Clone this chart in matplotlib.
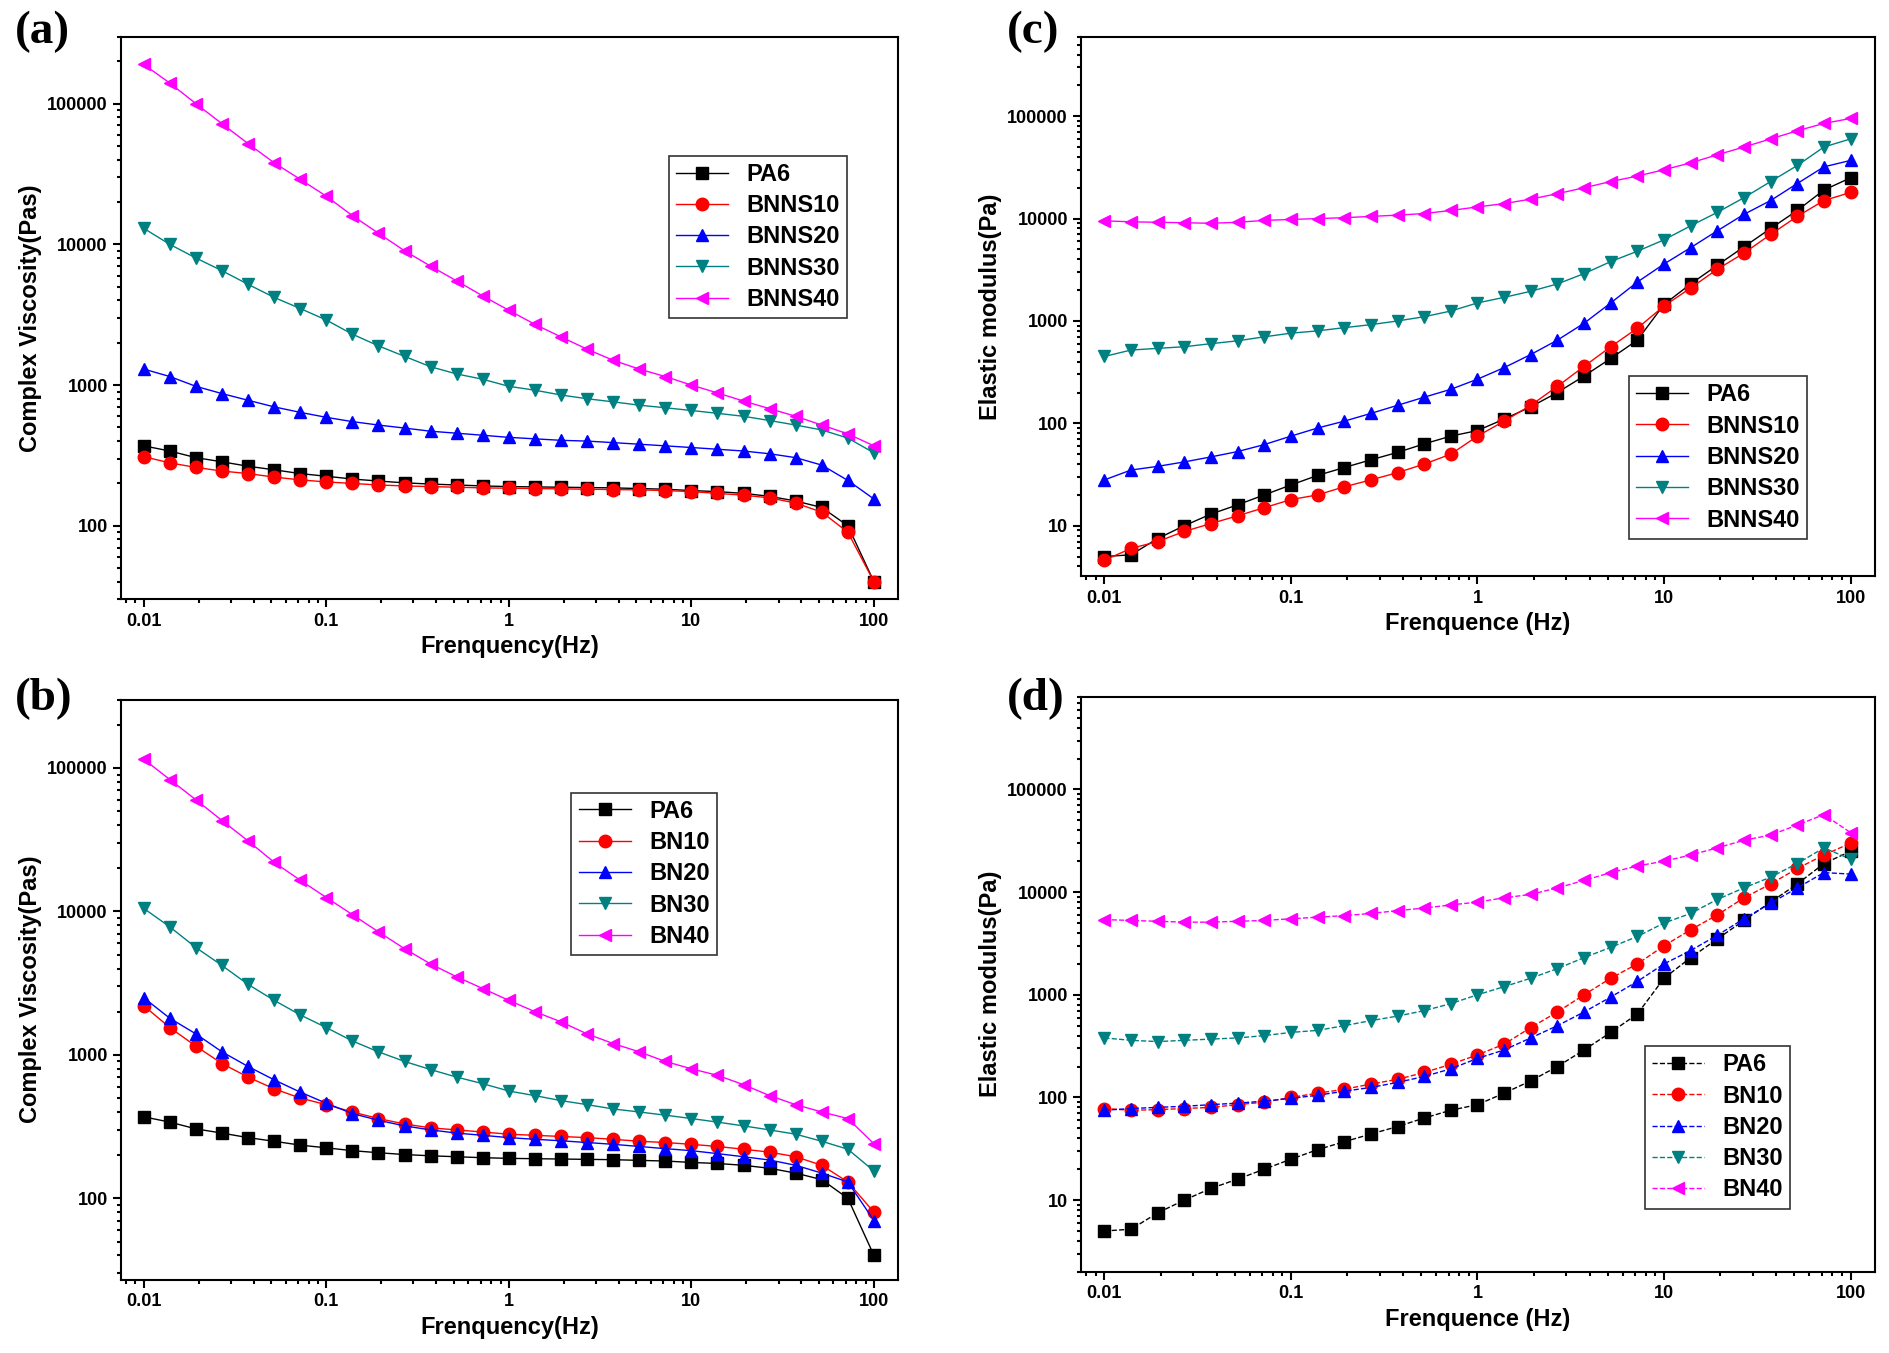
import numpy as np
import matplotlib.pyplot as plt

plt.rcParams['font.family'] = 'Liberation Sans'
plt.rcParams['font.weight'] = 'bold'

freq = np.logspace(-2, 2, 29)

# Datos
visc_bnns = {
    'PA6': [370, 340, 305, 285, 265, 250, 235, 225, 215, 208, 202, 198, 195, 192, 190,
            189, 188, 187, 186, 184, 182, 178, 175, 170, 162, 150, 135, 100, 40],
    'BNNS10': [310, 280, 260, 245, 235, 222, 212, 205, 200, 195, 192, 190, 188, 186, 185,
               184, 183, 182, 181, 180, 178, 175, 170, 165, 158, 145, 125, 90, 40],
    'BNNS20': [1300, 1150, 980, 870, 780, 700, 640, 590, 550, 520, 495, 470, 455, 440, 425,
               415, 405, 400, 390, 380, 370, 360, 350, 340, 325, 305, 270, 210, 155],
    'BNNS30': [13000, 10000, 8000, 6500, 5200, 4200, 3500, 2900, 2300, 1900, 1600, 1350, 1200,
               1100, 980, 920, 850, 800, 760, 720, 690, 660, 630, 600, 560, 520, 480, 420, 330],
    'BNNS40': [190000, 140000, 100000, 72000, 52000, 38000, 29000, 22000, 16000, 12000, 9000,
               7000, 5500, 4300, 3400, 2700, 2200, 1800, 1500, 1300, 1150, 1000, 880, 770, 680,
               600, 520, 450, 370],
}
visc_bn = {
    'PA6': visc_bnns['PA6'],
    'BN10': [2200, 1550, 1150, 870, 700, 580, 500, 450, 400, 360, 330, 310, 300, 290, 280,
             275, 270, 265, 258, 250, 245, 238, 230, 220, 210, 195, 170, 130, 80],
    'BN20': [2500, 1800, 1400, 1050, 830, 670, 550, 460, 390, 350, 320, 300, 285, 275, 265,
             258, 252, 245, 238, 230, 222, 215, 205, 195, 185, 170, 150, 130, 70],
    'BN30': [10500, 7800, 5600, 4200, 3100, 2400, 1900, 1550, 1250, 1050, 900, 790, 700, 630,
             560, 520, 480, 450, 420, 400, 380, 360, 340, 320, 300, 280, 250, 220, 155],
    'BN40': [115000, 83000, 60000, 43000, 31000, 22000, 16500, 12500, 9500, 7200, 5500, 4300,
             3500, 2900, 2400, 2000, 1700, 1400, 1200, 1050, 900, 800, 720, 620, 520, 450, 400,
             360, 240],
}
mod_pa6 = [5, 5.2, 7.5, 10, 13, 16, 20, 25, 31, 37, 44, 52, 63, 75, 85, 110, 145, 200, 290,
           430, 650, 1450, 2300, 3500, 5300, 8000, 12000, 19000, 25000]
mod_bnns = {
    'PA6': mod_pa6,
    'BNNS10': [4.6, 6, 7, 8.8, 10.5, 12.5, 15, 18, 20, 24, 28, 33, 40, 50, 75, 105, 150, 230,
               360, 560, 850, 1400, 2100, 3200, 4600, 7000, 10500, 15000, 18000],
    'BNNS20': [28, 35, 38, 42, 47, 53, 62, 75, 90, 105, 125, 150, 180, 215, 270, 350, 470, 650,
               950, 1500, 2400, 3600, 5200, 7600, 11000, 15000, 22000, 32000, 37000],
    'BNNS30': [450, 520, 540, 560, 600, 640, 700, 760, 800, 860, 920, 1000, 1100, 1250, 1500,
               1700, 1950, 2300, 2900, 3800, 4800, 6200, 8500, 11500, 16000, 23000, 33000,
               50000, 60000],
    'BNNS40': [9500, 9300, 9200, 9100, 9000, 9200, 9600, 9800, 10000, 10200, 10500, 10800,
               11200, 12000, 13000, 14000, 15500, 17500, 20000, 23000, 26000, 30000, 35000,
               42000, 50000, 60000, 72000, 85000, 95000],
}
mod_bn = {
    'PA6': mod_pa6,
    'BN10': [78, 75, 76, 78, 80, 85, 90, 100, 110, 120, 135, 150, 175, 210, 260, 330, 480, 680,
             1000, 1450, 2000, 3000, 4300, 6000, 8800, 12000, 17000, 23000, 30000],
    'BN20': [75, 78, 80, 82, 85, 88, 92, 98, 105, 115, 125, 140, 160, 190, 240, 290, 380, 500,
             680, 950, 1350, 2000, 2700, 3800, 5500, 7800, 11000, 15500, 15000],
    'BN30': [380, 360, 350, 360, 370, 380, 400, 430, 450, 500, 560, 620, 700, 820, 1000, 1200,
             1450, 1800, 2300, 2900, 3700, 5000, 6200, 8500, 11000, 14000, 19000, 27000, 21000],
    'BN40': [5400, 5300, 5200, 5100, 5100, 5200, 5300, 5500, 5700, 5900, 6200, 6600, 7000,
             7500, 8000, 8800, 9500, 11000, 13000, 15500, 18000, 20000, 23000, 27000, 32000,
             36000, 45000, 57000, 38000],
}

colors = ['black', 'red', 'blue', '#008080', 'magenta']
markers = ['s', 'o', '^', 'v', '<']


def draw_panel(ax, data, ylim, xlabel, ylabel, loc, ls='-'):
    # Dibuja un panel con las cinco series
    for (name, vals), c, m in zip(data.items(), colors, markers):
        ax.plot(freq, vals, color=c, marker=m, markersize=9, linestyle=ls,
                linewidth=1, label=name)
    ax.set_xscale('log')
    ax.set_yscale('log')
    ax.set_xlim(0.0075, 135)
    ax.set_ylim(*ylim)
    ax.set_xticks([0.01, 0.1, 1, 10, 100])
    ax.set_xticklabels(['0.01', '0.1', '1', '10', '100'])
    ticks = [t for t in [10, 100, 1000, 10000, 100000] if ylim[0] < t < ylim[1]]
    ax.set_yticks(ticks)
    ax.set_yticklabels([str(t) for t in ticks])
    ax.tick_params(which='both', direction='out', width=1.5, labelsize=13)
    ax.tick_params(which='major', length=6)
    ax.tick_params(which='minor', length=3)
    for s in ax.spines.values():
        s.set_linewidth(1.5)
    ax.set_xlabel(xlabel, fontsize=17, fontweight='bold')
    ax.set_ylabel(ylabel, fontsize=17, fontweight='bold')
    leg = ax.legend(loc=loc, fontsize=17, frameon=True, fancybox=False,
                    edgecolor='black', handlelength=2.2, borderpad=0.3,
                    labelspacing=0.35)
    leg.get_frame().set_linewidth(1.2)


fig = plt.figure(figsize=(18.9, 13.53), dpi=100)
ax_a = fig.add_axes([0.064, 0.557, 0.411, 0.416])
ax_b = fig.add_axes([0.064, 0.054, 0.411, 0.429])
ax_c = fig.add_axes([0.572, 0.574, 0.420, 0.399])
ax_d = fig.add_axes([0.572, 0.060, 0.420, 0.425])

draw_panel(ax_a, visc_bnns, (30, 3e5), 'Frenquency(Hz)', 'Complex Viscosity(Pas)',
           (0.705, 0.5))
draw_panel(ax_b, visc_bn, (27, 3e5), 'Frenquency(Hz)', 'Complex Viscosity(Pas)',
           (0.58, 0.56))
draw_panel(ax_c, mod_bnns, (3.2, 6e5), 'Frenquence (Hz)', 'Elastic modulus(Pa)',
           (0.69, 0.07))
draw_panel(ax_d, mod_bn, (2, 8e5), 'Frenquence (Hz)', 'Elastic modulus(Pa)',
           (0.71, 0.11), ls='--')

for lab, x, y in [('(a)', 0.008, 0.968), ('(b)', 0.008, 0.475),
                  ('(c)', 0.533, 0.968), ('(d)', 0.533, 0.475)]:
    fig.text(x, y, lab, fontsize=34, fontweight='bold', family='Liberation Serif')

fig.savefig('out.png', dpi=100)
